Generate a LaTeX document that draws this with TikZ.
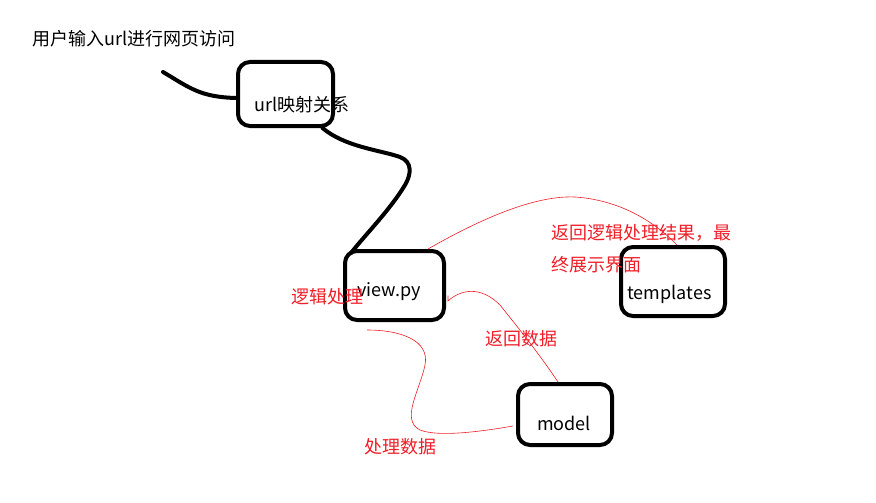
\documentclass[tikz,border=0pt]{standalone}
\usepackage{fontspec}
\setmainfont{Noto Sans CJK SC}
\definecolor{redink}{RGB}{240,30,40}
\tikzset{
  box/.style={draw=black, line width=4pt, rounded corners=12pt, inner sep=0pt, minimum width=#1},
  box/.default=95pt,
  blackline/.style={draw=black, line width=4pt, line cap=round},
  redline/.style={draw=redink, line width=0.6pt},
  lbl/.style={anchor=west, inner sep=0pt, font=\fontsize{18}{21}\selectfont},
  redlbl/.style={lbl, text=redink}
}
\begin{document}
\begin{tikzpicture}[x=1pt,y=-1pt]
\useasboundingbox (0,0) rectangle (876,503);
% boxes
\node[box=95pt, minimum height=64pt] (url) at (285.5,94) {};
\node[box=99pt, minimum height=69pt] (view) at (394.5,285.5) {};
\node[box=104pt, minimum height=69pt] (tpl) at (673,281.5) {};
\node[box=94pt, minimum height=61pt] (model) at (565,414.5) {};
% texts
\node[lbl] (t0) at (32,39) {用户输入url进行网页访问};
\node[lbl] (t1) at (254,105) {url映射关系};
\node[lbl] (t2) at (357,292) {view.py};
\node[lbl] (t3) at (627,294) {templates};
\node[lbl] (t4) at (537,423) {model};
\node[redlbl] (r1) at (291,297) {逻辑处理};
\node[redlbl] (r2) at (551,233) {返回逻辑处理结果，最};
\node[redlbl] (r3) at (551,265) {终展示界面};
\node[redlbl] (r4) at (485,339) {返回数据};
\node[redlbl] (r5) at (364,447) {处理数据};
% black connectors
\coordinate (start) at (163,72);
\draw[blackline] (start) .. controls (190,88) and (200,97) .. ([yshift=-4pt]url.west);
\draw[blackline] ([xshift=37pt]url.south) .. controls (345,147) and (380,150) .. (400,157)
  .. controls (413,162) and (411,175) .. (405,185)
  .. controls (390,210) and (365,235) .. ([xshift=8pt,yshift=-4pt]view.north west);
% red connectors
\draw[redline] ([xshift=33.5pt]view.north) .. controls (470,225) and (530,195) .. (575,197)
  .. controls (620,200) and (655,222) .. ([xshift=4pt]tpl.north);
\draw[redline] ([xshift=2pt,yshift=-10pt]view.east) -- ([xshift=2pt,yshift=-15.5pt]view.east)
  .. controls (460,290) and (480,285) .. (500,305)
  .. controls (520,330) and (540,355) .. ([xshift=-7pt]model.north);
\draw[redline] ([xshift=-27.5pt,yshift=-8pt]view.south) .. controls (400,330) and (430,340) .. (425,365)
  .. controls (420,390) and (400,420) .. (420,430)
  .. controls (440,438) and (490,430) .. ([xshift=-3pt,yshift=-11.5pt]model.west);
\end{tikzpicture}
\end{document}
